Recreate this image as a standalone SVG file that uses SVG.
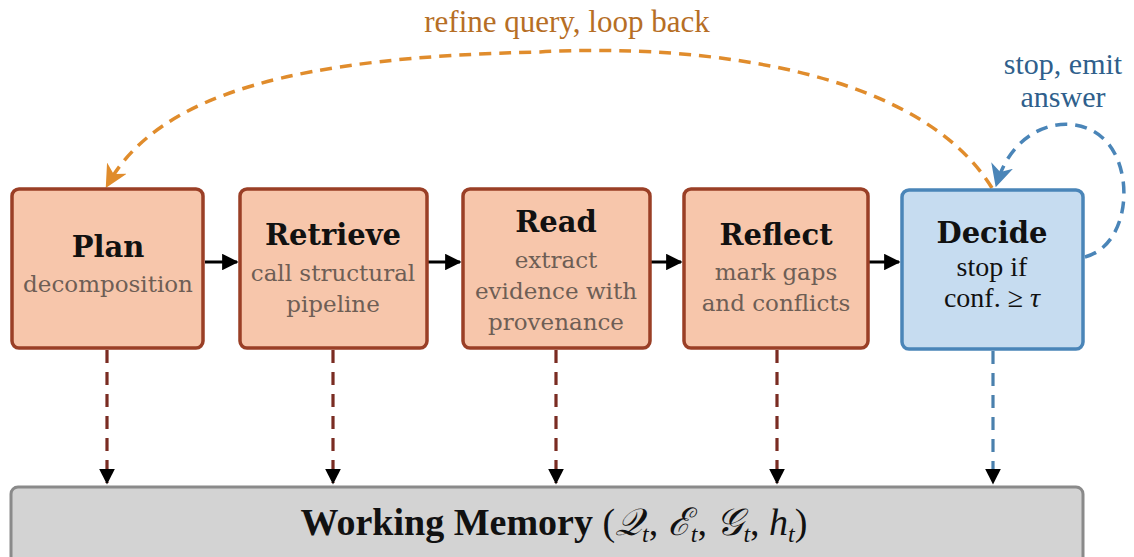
<svg xmlns="http://www.w3.org/2000/svg" width="1134" height="557" viewBox="0 0 1134 557">
<defs>
<style>
.box{fill:#f7c6ab;stroke:#9a3f26;stroke-width:3.5}
.dec{fill:#c6dcf0;stroke:#4a85b8;stroke-width:3.5}
.title{font-family:"DejaVu Serif",serif;font-weight:bold;font-size:29px;fill:#111;text-anchor:middle}
.sub{font-family:"DejaVu Serif",serif;font-size:23px;fill:#6e5e55;text-anchor:middle}
.dsub{font-family:"Liberation Serif",serif;font-size:28px;fill:#111;text-anchor:middle}
.flow{stroke:#000;stroke-width:3;fill:none}
.mem{stroke:#7a2c22;stroke-width:3.2;stroke-dasharray:13,9;fill:none}
.memb{stroke:#4a80ad;stroke-width:3.2;stroke-dasharray:13,9;fill:none}
</style>
<marker id="ah" viewBox="0 0 10 10" refX="9" refY="5" markerWidth="5.5" markerHeight="5.5" orient="auto" markerUnits="strokeWidth"><path d="M0,0 L10,5 L0,10 z" fill="#000"/></marker>
<marker id="ahk" viewBox="0 0 10 10" refX="9" refY="5" markerWidth="5" markerHeight="5" orient="auto" markerUnits="strokeWidth"><path d="M0,0 L10,5 L0,10 z" fill="#000"/></marker>
<marker id="aho" viewBox="0 0 10 10" refX="8" refY="5" markerWidth="6.5" markerHeight="6.5" orient="auto" markerUnits="strokeWidth"><path d="M0,0 L10,5 L0,10 L3,5 z" fill="#e08c2c"/></marker>
<marker id="ahb" viewBox="0 0 10 10" refX="8" refY="5" markerWidth="6.5" markerHeight="6.5" orient="auto" markerUnits="strokeWidth"><path d="M0,0 L10,5 L0,10 L3,5 z" fill="#4a85b8"/></marker>
</defs>
<rect width="1134" height="557" fill="#fff"/>
<g id="connectors">
<line class="flow" x1="205" y1="262" x2="237" y2="262" marker-end="url(#ah)"/>
<line class="flow" x1="428" y1="262" x2="460" y2="262" marker-end="url(#ah)"/>
<line class="flow" x1="651" y1="262" x2="681" y2="262" marker-end="url(#ah)"/>
<line class="flow" x1="869" y1="262" x2="899" y2="262" marker-end="url(#ah)"/>
<line class="mem" x1="107" y1="350" x2="107" y2="483" marker-end="url(#ahk)"/>
<line class="mem" x1="333" y1="350" x2="333" y2="483" marker-end="url(#ahk)"/>
<line class="mem" x1="556" y1="350" x2="556" y2="483" marker-end="url(#ahk)"/>
<line class="mem" x1="777" y1="350" x2="777" y2="483" marker-end="url(#ahk)"/>
<line class="memb" x1="993" y1="351" x2="993" y2="483" marker-end="url(#ahk)"/>
<path d="M992,188 C900,40 600,48 540,52 C300,57 160,92 108,184" fill="none" stroke="#e08c2c" stroke-width="3.5" stroke-dasharray="12,8" marker-end="url(#aho)"/>
<path d="M1085,257 C1130,245 1135,170 1105,140 C1075,110 1015,122 997,183" fill="none" stroke="#4a85b8" stroke-width="3.5" stroke-dasharray="12,8" marker-end="url(#ahb)"/>
<text x="567" y="32" font-family="Liberation Serif,serif" font-size="31" fill="#b66e25" text-anchor="middle">refine query, loop back</text>
<text x="1063" y="74" font-family="Liberation Serif,serif" font-size="30" fill="#2f5f8c" text-anchor="middle">stop, emit</text>
<text x="1063" y="107" font-family="Liberation Serif,serif" font-size="30" fill="#2f5f8c" text-anchor="middle">answer</text>
</g>
<g id="plan">
<rect class="box" x="12" y="189" width="191" height="159" rx="7"/>
<text class="title" x="108" y="257">Plan</text>
<text class="sub" x="108" y="292">decomposition</text>
</g>
<g id="retrieve">
<rect class="box" x="240" y="189" width="187" height="159" rx="7"/>
<text class="title" x="333" y="245">Retrieve</text>
<text class="sub" x="333" y="281">call structural</text>
<text class="sub" x="333" y="312">pipeline</text>
</g>
<g id="read">
<rect class="box" x="463" y="189" width="187" height="159" rx="7"/>
<text class="title" x="556" y="232">Read</text>
<text class="sub" x="556" y="268">extract</text>
<text class="sub" x="556" y="299">evidence with</text>
<text class="sub" x="556" y="330">provenance</text>
</g>
<g id="reflect">
<rect class="box" x="684" y="189" width="184" height="159" rx="7"/>
<text class="title" x="776" y="245">Reflect</text>
<text class="sub" x="776" y="280">mark gaps</text>
<text class="sub" x="776" y="311">and conflicts</text>
</g>
<g id="decide">
<rect class="dec" x="902" y="190" width="181" height="159" rx="7"/>
<text class="title" x="992" y="243">Decide</text>
<text class="dsub" x="992" y="276">stop if</text>
<text class="dsub" x="992" y="307">conf. ≥ <tspan font-style="italic">τ</tspan></text>
</g>
<g id="memory">
<rect x="11" y="487" width="1072" height="80" rx="7" fill="#d3d3d3" stroke="#8a8a8a" stroke-width="3"/>
<text x="554" y="535" font-family="Liberation Serif,serif" font-size="38" fill="#111" text-anchor="middle"><tspan font-weight="bold">Working Memory</tspan> (<tspan font-style="italic">𝒬</tspan><tspan font-size="24" font-style="italic" dy="7">t</tspan><tspan dy="-7">, </tspan><tspan font-style="italic">ℰ</tspan><tspan font-size="24" font-style="italic" dy="7">t</tspan><tspan dy="-7">, </tspan><tspan font-style="italic">𝒢</tspan><tspan font-size="24" font-style="italic" dy="7">t</tspan><tspan dy="-7">, </tspan><tspan font-style="italic">h</tspan><tspan font-size="24" font-style="italic" dy="7">t</tspan><tspan dy="-7">)</tspan></text>
</g>
</svg>
